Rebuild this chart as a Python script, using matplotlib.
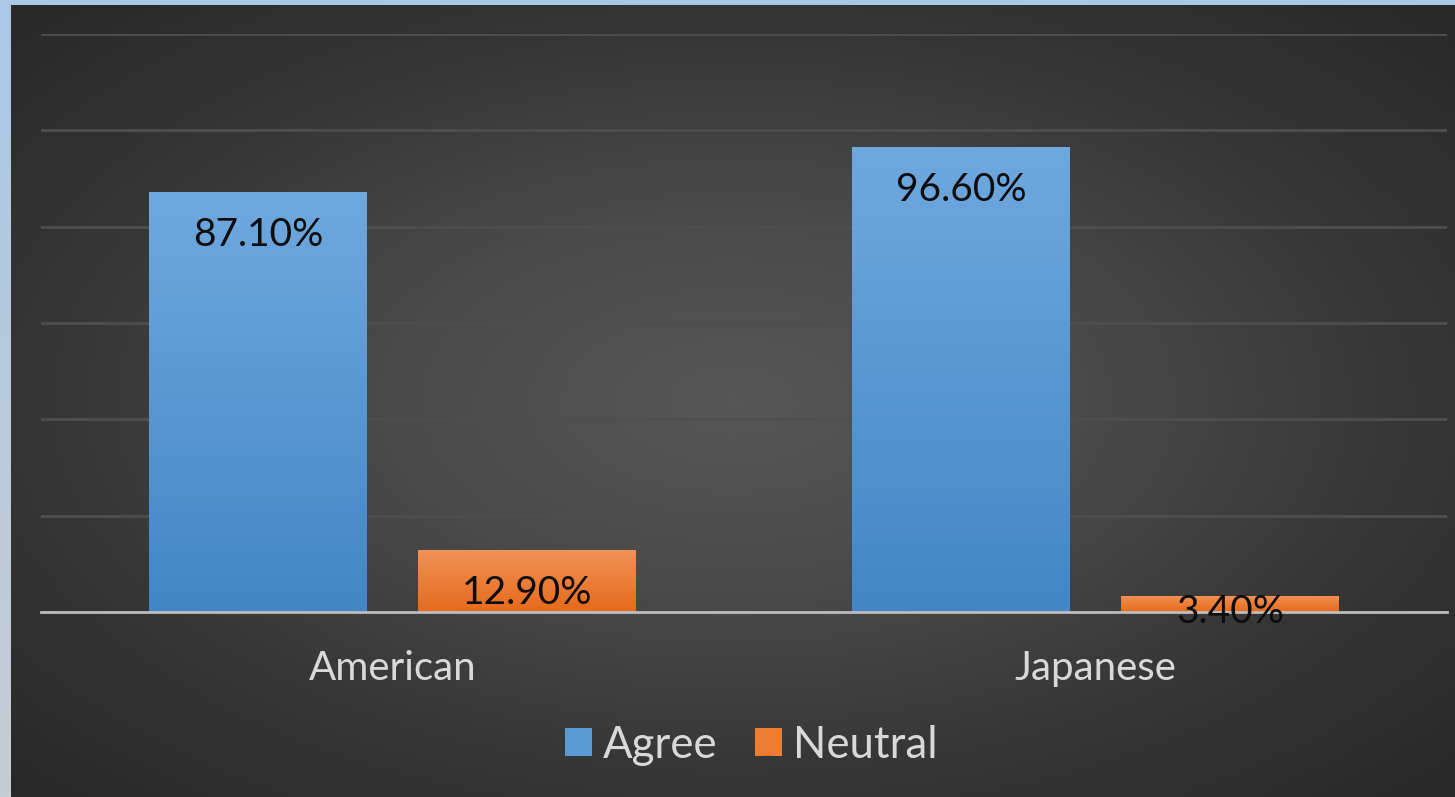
import numpy as np
import matplotlib
matplotlib.use("Agg")
import matplotlib.pyplot as plt
from matplotlib.colors import LinearSegmentedColormap
from matplotlib.patches import Patch

categories = ["American", "Japanese"]
series_names = ["Agree", "Neutral"]
agree = [87.1, 96.6]
neutral = [12.9, 3.4]
labels_agree = ["87.10%", "96.60%"]
labels_neutral = ["12.90%", "3.40%"]

W, H, DPI = 1455, 797, 100
fig = plt.figure(figsize=(W / DPI, H / DPI), dpi=DPI)

# outer frame (light blue/grey strip)
bg = fig.add_axes([0, 0, 1, 1])
bg.set_axis_off()
yy = np.linspace(0, 1, 200)[:, None] * np.ones((1, 2))
frame_cmap = LinearSegmentedColormap.from_list("frame", ["#c6ccd4", "#aac8e6"])
bg.imshow(yy, cmap=frame_cmap, extent=[0, 1, 0, 1], aspect="auto", origin="lower")
bg.set_xlim(0, 1); bg.set_ylim(0, 1)

# dark radial gradient panel
panel = fig.add_axes([11 / W, 0, 1 - 11 / W, 1 - 5 / H])
panel.set_axis_off()
nx, ny = 400, 220
X, Y = np.meshgrid(np.linspace(-1, 1, nx), np.linspace(-1, 1, ny))
R = np.clip(np.sqrt(X ** 2 + Y ** 2) / np.sqrt(2), 0, 1)
dark_cmap = LinearSegmentedColormap.from_list("dark", ["#565656", "#4a4a4a", "#363636", "#282828"])
panel.imshow(R, cmap=dark_cmap, extent=[0, 1, 0, 1], aspect="auto", origin="lower",
             interpolation="bilinear")
panel.set_xlim(0, 1); panel.set_ylim(0, 1)

# main chart axes
left, right = 41 / W, 1447 / W
bottom, top = 1 - 612 / H, 1 - 34 / H
ax = fig.add_axes([left, bottom, right - left, top - bottom])
ax.set_facecolor("none")
ax.patch.set_alpha(0)

x = np.arange(len(categories))
bw = 0.31
gap = 0.0725
off = (bw + gap) / 2

ax.set_xlim(-0.5, len(categories) - 0.5)
ax.set_ylim(0, 120)
ax.set_yticks(np.arange(0, 121, 20))
ax.yaxis.grid(True, color="#4e4e4e", linewidth=2, zorder=0)
ax.set_axisbelow(True)
for s in ["top", "right", "left"]:
    ax.spines[s].set_visible(False)
ax.spines["bottom"].set_color("#bdbdbd")
ax.spines["bottom"].set_linewidth(2)
ax.spines["bottom"].set_zorder(5)
ax.tick_params(axis="y", left=False, labelleft=False)
ax.tick_params(axis="x", bottom=False, pad=37)
ax.set_xticks(x)
ax.set_xticklabels(categories, fontsize=29, color="#d9d9d9", family="Lato")
for t in ax.get_xticklabels():
    t.set_verticalalignment("center")

blue_cmap = LinearSegmentedColormap.from_list("b", ["#4286c8", "#6fa8de"])
orange_cmap = LinearSegmentedColormap.from_list("o", ["#e66a1a", "#f39258"])

def gradient_bars(bars, cmap):
    grad = np.linspace(0, 1, 100)[:, None]
    for b in bars:
        bx, by = b.get_x(), b.get_y()
        bwid, bh = b.get_width(), b.get_height()
        im = ax.imshow(grad, cmap=cmap, extent=[bx, bx + bwid, by, by + bh],
                       aspect="auto", origin="lower", zorder=3)
        im.set_clip_path(b)

bars_a = ax.bar(x - off, agree, width=bw, color="#5b9bd5", zorder=2, linewidth=0)
bars_n = ax.bar(x + off, neutral, width=bw, color="#ed7d31", zorder=2, linewidth=0)
gradient_bars(bars_a, blue_cmap)
gradient_bars(bars_n, orange_cmap)
ax.set_xlim(-0.5, len(categories) - 0.5)
ax.set_ylim(0, 120)

def label_bars(xs, vals, labels):
    for xi, v, lab in zip(xs, vals, labels):
        ly = max(v - 8.9, 0)
        ax.text(xi, ly, lab, ha="center", va="center", fontsize=28,
                color="#0d0d0d", family="Lato", zorder=6)

label_bars(x - off, agree, labels_agree)
label_bars(x + off, neutral, labels_neutral)

handles = [Patch(facecolor="#5b9bd5", label=series_names[0]),
           Patch(facecolor="#ed7d31", label=series_names[1])]
leg = fig.legend(handles=handles, loc="center", bbox_to_anchor=(751 / W, 1 - 745 / H),
                 ncol=2, frameon=False, handlelength=0.62, handleheight=0.62,
                 handletextpad=0.25, columnspacing=0.85, prop={"family": "Lato", "size": 31.5})
for t in leg.get_texts():
    t.set_color("#d9d9d9")

fig.savefig("out.png", dpi=DPI)
